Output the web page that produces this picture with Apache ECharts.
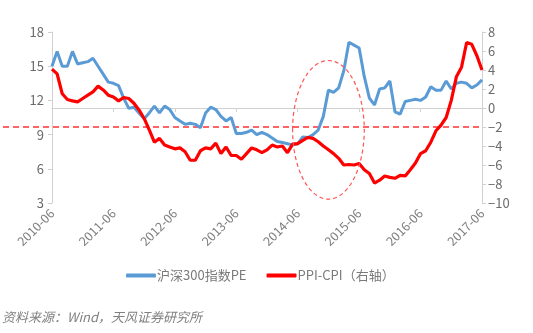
<!DOCTYPE html>
<html>
<head>
<meta charset="utf-8">
<script src="https://cdn.jsdelivr.net/npm/echarts@6/dist/echarts.min.js"></script>
<style>
  html, body { margin: 0; padding: 0; background: #fff; }
  #chart { width: 533px; height: 333px; }
</style>
</head>
<body>
<div id="chart"></div>
<script>
// Monthly categories, 2010-06 .. 2017-06
const months = [
  '2010-06','2010-07','2010-08','2010-09','2010-10','2010-11','2010-12',
  '2011-01','2011-02','2011-03','2011-04','2011-05','2011-06','2011-07','2011-08','2011-09','2011-10','2011-11','2011-12',
  '2012-01','2012-02','2012-03','2012-04','2012-05','2012-06','2012-07','2012-08','2012-09','2012-10','2012-11','2012-12',
  '2013-01','2013-02','2013-03','2013-04','2013-05','2013-06','2013-07','2013-08','2013-09','2013-10','2013-11','2013-12',
  '2014-01','2014-02','2014-03','2014-04','2014-05','2014-06','2014-07','2014-08','2014-09','2014-10','2014-11','2014-12',
  '2015-01','2015-02','2015-03','2015-04','2015-05','2015-06','2015-07','2015-08','2015-09','2015-10','2015-11','2015-12',
  '2016-01','2016-02','2016-03','2016-04','2016-05','2016-06','2016-07','2016-08','2016-09','2016-10','2016-11','2016-12',
  '2017-01','2017-02','2017-03','2017-04','2017-05','2017-06'
];

// 沪深300指数PE (left axis)
const pe = [
  15.0, 16.3, 15.0, 15.0, 16.3, 15.2, 15.3, 15.4, 15.7, 15.0, 14.3, 13.6,
  13.5, 13.3, 12.2, 11.3, 11.4, 10.9, 10.4, 10.9, 11.5, 10.9, 11.5, 11.2,
  10.5, 10.2, 9.9, 10.0, 9.9, 9.6, 10.9, 11.4, 11.2, 10.6, 10.2, 10.5,
  9.1, 9.1, 9.2, 9.4, 9.0, 9.2, 9.0, 8.7, 8.4, 8.3, 8.2, 8.1,
  8.2, 8.8, 8.75, 9.0, 9.4, 10.6, 12.9, 12.7, 13.1, 14.6, 17.1, 16.85,
  16.6, 14.1, 12.2, 11.6, 13.0, 13.1, 13.7, 11.0, 10.8, 11.9, 12.0, 12.1,
  12.0, 12.3, 13.2, 12.9, 12.9, 13.7, 13.0, 13.5, 13.6, 13.5, 13.1, 13.35,
  13.8
];

// PPI-CPI (right axis)
const ppiCpi = [
  4.1, 3.6, 1.5, 0.9, 0.75, 0.65, 1.0, 1.35, 1.7, 2.3, 1.9, 1.35,
  1.15, 0.75, 1.1, 1.0, 0.5, -0.2, -1.1, -2.3, -3.6, -3.2, -3.9, -4.1,
  -4.3, -4.2, -4.6, -5.5, -5.5, -4.5, -4.2, -4.3, -3.7, -4.8, -4.1, -5.0,
  -5.0, -5.4, -4.8, -4.2, -4.4, -4.7, -4.4, -3.9, -4.1, -4.0, -4.7, -3.8,
  -3.75, -3.4, -3.1, -3.2, -3.55, -4.0, -4.4, -4.8, -5.3, -6.0, -5.95, -6.0,
  -5.85, -6.5, -6.9, -7.9, -7.6, -7.15, -7.3, -7.4, -7.1, -7.15, -6.5, -5.8,
  -4.8, -4.5, -3.6, -2.4, -1.8, -1.0, 0.8, 3.3, 4.3, 6.9, 6.7, 5.5,
  4.0
];

const seriesNames = ['沪深300指数PE', 'PPI-CPI（右轴）'];
const sourceNote = '资料来源：Wind，天风证券研究所';

// Reference level on the right axis and highlighted window
const ppiRefLevel = -2;
const highlight = { month: 53.6, value: -2.3, halfMonths: 6.9, halfValue: 7.3 };

const FONT = '"Noto Sans CJK SC", "Noto Sans", sans-serif';
const LABEL = '#6b6b6b';
const XLABEL = '#7f7f7f';
const AXIS = '#d0d0d0';

const chart = echarts.init(document.getElementById('chart'), null, { renderer: 'canvas' });

chart.setOption({
  animation: false,
  backgroundColor: '#fff',
  textStyle: { fontFamily: FONT },
  grid: { left: 52, right: 51, top: 32, bottom: 130, containLabel: false },
  legend: {
    left: 121, top: 264,
    itemWidth: 30, itemHeight: 4, itemGap: 20,
    icon: 'roundRect',
    textStyle: { color: '#7a7a7a', fontSize: 13, fontFamily: FONT, padding: [0, 0, 0, -4] },
    data: seriesNames
  },
  xAxis: {
    type: 'category',
    data: months,
    boundaryGap: false,
    axisLine: { lineStyle: { color: AXIS, width: 1 } },
    axisTick: { interval: 11, length: 4, lineStyle: { color: AXIS } },
    axisLabel: { interval: 11, rotate: 45, color: XLABEL, fontSize: 12.5, margin: 8, fontFamily: FONT },
    splitLine: { show: false }
  },
  yAxis: [
    {
      type: 'value', min: 3, max: 18, interval: 3,
      axisLine: { show: true, lineStyle: { color: AXIS } },
      axisTick: { show: true, length: 4, lineStyle: { color: AXIS } },
      axisLabel: { color: LABEL, fontSize: 13, margin: 8, fontFamily: FONT },
      splitLine: { show: false }
    },
    {
      type: 'value', min: -10, max: 8, interval: 2,
      position: 'right',
      axisLine: { show: true, lineStyle: { color: AXIS } },
      axisTick: { show: true, length: 4, lineStyle: { color: AXIS } },
      axisLabel: {
        color: LABEL, fontSize: 13, margin: 6, fontFamily: FONT,
        formatter: v => (v < 0 ? '\u2212' + Math.abs(v) : String(v))
      },
      splitLine: { show: false }
    }
  ],
  series: [
    {
      name: seriesNames[0], type: 'line', yAxisIndex: 0,
      data: pe, showSymbol: false, symbol: 'none',
      lineStyle: { color: '#5B9BD5', width: 3 },
      itemStyle: { color: '#5B9BD5' }, z: 2
    },
    {
      name: seriesNames[1], type: 'line', yAxisIndex: 1,
      data: ppiCpi, showSymbol: false, symbol: 'none',
      lineStyle: { color: '#FF0000', width: 3.2 },
      itemStyle: { color: '#FF0000' }, z: 3
    }
  ]
});

// Annotations positioned from axis coordinates
function drawAnnotations() {
  const refY = chart.convertToPixel({ yAxisIndex: 1 }, ppiRefLevel);
  const rightX = chart.convertToPixel({ xAxisIndex: 0 }, months.length - 1);
  const c = chart.convertToPixel({ xAxisIndex: 0, yAxisIndex: 1 }, [highlight.month, highlight.value]);
  const e = chart.convertToPixel({ xAxisIndex: 0, yAxisIndex: 1 },
    [highlight.month + highlight.halfMonths, highlight.value + highlight.halfValue]);
  chart.setOption({
    graphic: [
      {
        type: 'line', silent: true, z: 1,
        shape: { x1: 3, y1: refY, x2: rightX, y2: refY },
        style: { stroke: '#FF3030', lineWidth: 1.3, lineDash: [6, 4] }
      },
      {
        type: 'ellipse', silent: true, z: 10,
        shape: { cx: c[0], cy: c[1], rx: Math.abs(e[0] - c[0]), ry: Math.abs(c[1] - e[1]) },
        style: { fill: 'none', stroke: '#FF5555', lineWidth: 1.2, lineDash: [4, 3] }
      },
      {
        type: 'text', silent: true, left: 2, top: 311,
        style: { text: sourceNote, fill: '#808080', font: 'italic 13px ' + FONT }
      }
    ]
  });
}
drawAnnotations();
</script>
</body>
</html>
